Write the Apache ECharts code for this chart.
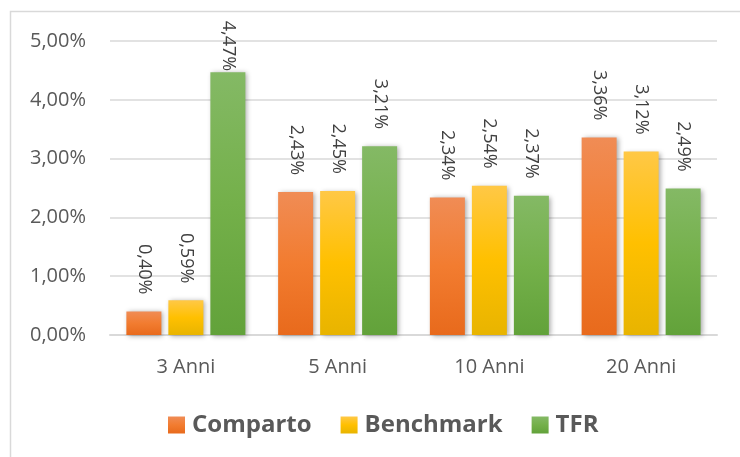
<!DOCTYPE html>
<html>
<head>
<meta charset="utf-8">
<script src="https://cdn.jsdelivr.net/npm/echarts@6/dist/echarts.min.js"></script>
<style>html,body{margin:0;padding:0;background:#fff}#c{width:740px;height:457px}</style>
</head>
<body>
<div id="c"></div>
<script>
var categories = ['3 Anni', '5 Anni', '10 Anni', '20 Anni'];
var comparto = [0.40, 2.43, 2.34, 3.36];
var benchmark = [0.59, 2.45, 2.54, 3.12];
var tfr = [4.47, 3.21, 2.37, 2.49];
var seriesNames = ['Comparto', 'Benchmark', 'TFR'];
var yTicks = [0, 1, 2, 3, 4, 5];

function fmt(v) { return v.toFixed(2).replace('.', ',') + '%'; }
function grad(top, mid, bot) {
  return new echarts.graphic.LinearGradient(0, 0, 0, 1, [
    {offset: 0, color: top}, {offset: 0.5, color: mid}, {offset: 1, color: bot}
  ]);
}
var colors = [
  grad('#F08C55', '#F27C30', '#E86A1C'),
  grad('#FFC846', '#FFC000', '#E8B400'),
  grad('#84B965', '#74B04A', '#62A23A')
];
var fontF = '"Open Sans", sans-serif';
function mk(name, data, i) {
  return {
    name: name, type: 'bar',
    // labels that would run off the top of the plot are pulled down next to the bar
    data: data.map(function (v) { return v > 4 ? {value: v, label: {distance: 1}} : v; }),
    barWidth: 35, barGap: '20%',
    itemStyle: {color: colors[i], shadowBlur: 5, shadowColor: 'rgba(0,0,0,0.35)', shadowOffsetX: 2, shadowOffsetY: 1},
    label: {show: true, position: 'top', rotate: -90, align: 'right', verticalAlign: 'middle', distance: 17,
      color: '#404040', fontSize: 18, fontFamily: fontF, formatter: function (p) { return fmt(p.value); }}
  };
}
var chart = echarts.init(document.getElementById('c'));
chart.setOption({
  animation: false,
  graphic: [{type: 'rect', shape: {x: 10.5, y: 11.5, width: 800, height: 500}, style: {fill: 'none', stroke: '#D9D9D9', lineWidth: 1.5}, z: -1}],
  grid: {left: 110, right: 23, top: 41, bottom: 122},
  legend: {
    bottom: 15, left: 163, itemWidth: 17, itemHeight: 17, itemGap: 29,
    icon: 'rect',
    textStyle: {fontSize: 24, fontWeight: 'bold', color: '#595959', fontFamily: fontF, padding: [0, 0, 0, 2]},
    data: seriesNames
  },
  xAxis: {
    type: 'category', data: categories,
    axisLine: {lineStyle: {color: '#D9D9D9', width: 2}},
    axisTick: {show: false},
    axisLabel: {color: '#595959', fontSize: 20, fontFamily: fontF, margin: 22}
  },
  yAxis: {
    type: 'value', min: yTicks[0], max: yTicks[yTicks.length - 1], interval: 1,
    axisLine: {show: false}, axisTick: {show: false},
    splitLine: {lineStyle: {color: '#D9D9D9', width: 1.5}},
    axisLabel: {color: '#595959', fontSize: 20, fontFamily: fontF, margin: 24, formatter: function (v) { return fmt(v); }}
  },
  series: [mk(seriesNames[0], comparto, 0), mk(seriesNames[1], benchmark, 1), mk(seriesNames[2], tfr, 2)]
});
</script>
</body>
</html>
